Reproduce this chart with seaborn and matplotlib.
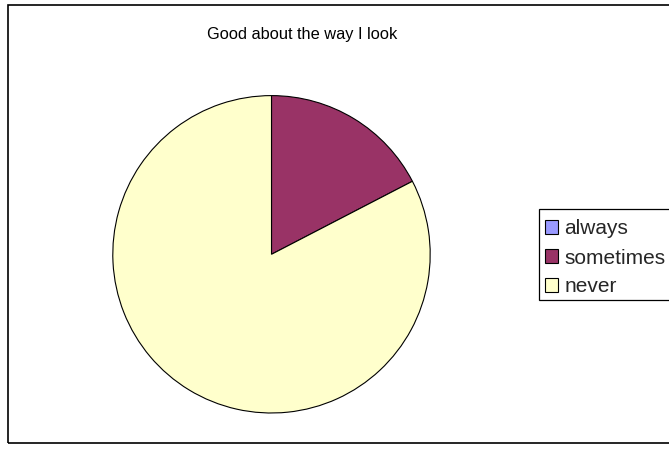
import matplotlib
matplotlib.use("Agg")
import matplotlib.pyplot as plt
import matplotlib.patches as mpatches
import seaborn as sns

# Survey responses for "Good about the way I look"
categories = ["always", "sometimes", "never"]
counts = [0, 4, 19]
colors = ["#9999FF", "#993366", "#FFFFCC"]

sns.set_theme(style="white")
plt.rcParams["font.family"] = ["Liberation Sans", "DejaVu Sans"]

W, H = 669, 449
fig = plt.figure(figsize=(W / 100, H / 100), dpi=100)
fig.patch.set_facecolor("white")

# Pie area: centre and radius in pixels
cx, cy, r = 271.5, 254.3, 158.7
ax = fig.add_axes([(cx - r) / W, (H - cy - r) / H, 2 * r / W, 2 * r / H])
palette = sns.color_palette(colors)
wedges, _ = ax.pie(counts, colors=palette, startangle=90, counterclock=False,
                   wedgeprops=dict(edgecolor="black", linewidth=0.8))
ax.set_xlim(-1, 1)
ax.set_ylim(-1, 1)
ax.set_aspect("equal")
ax.axis("off")

# Outer chart border
fig.patches.append(mpatches.Rectangle((7.5 / W, (H - 442.5) / H), 1.0, 438 / H,
                                      transform=fig.transFigure, fill=False,
                                      edgecolor="black", linewidth=1.2, clip_on=False))

fig.text(302 / W, 1 - 35 / H, "Good about the way I look", ha="center", va="center",
         fontsize=11.8, color="black")

# Legend box (runs off the right edge) and its entries
fig.patches.append(mpatches.Rectangle((539 / W, (H - 299.5) / H), 200 / W, 90.5 / H,
                                      transform=fig.transFigure, facecolor="white",
                                      edgecolor="black", linewidth=0.9, clip_on=False))
handles = [mpatches.Patch(facecolor=c, edgecolor="black", linewidth=0.8) for c in palette]
leg = fig.legend(handles, categories, loc="upper left",
                 bbox_to_anchor=(545 / W, 1 - 219.5 / H), bbox_transform=fig.transFigure,
                 fontsize=15, frameon=False, borderpad=0, handlelength=0.63,
                 handleheight=0.63, handletextpad=0.3, labelspacing=0.48, borderaxespad=0)

fig.savefig("out.png", dpi=100)
